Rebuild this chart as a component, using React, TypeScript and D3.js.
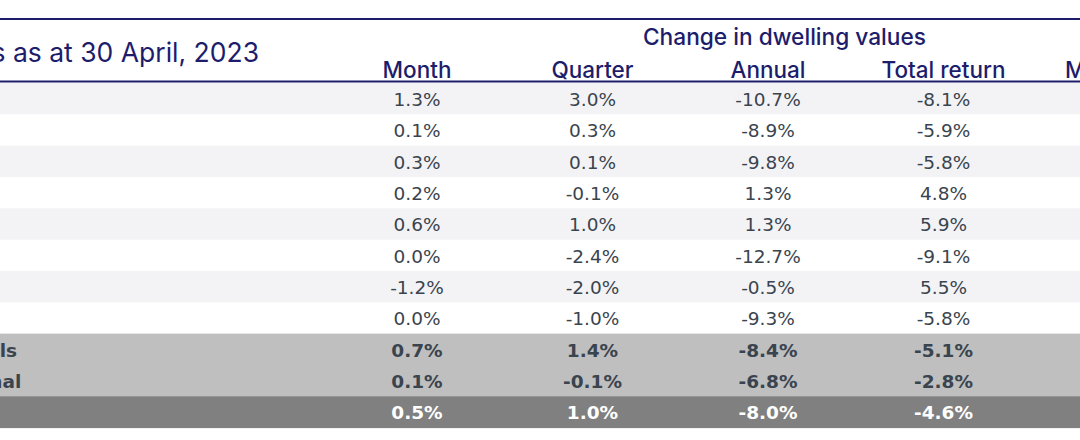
import React, { useEffect, useRef } from "react";
import * as d3 from "d3";

const title = "Index results as at 30 April, 2023";
const groupHeader = "Change in dwelling values";
const columns = ["Month", "Quarter", "Annual", "Total return", "Median value"];
const regions = [
  "Sydney", "Melbourne", "Brisbane", "Adelaide", "Perth", "Hobart", "Darwin", "Canberra",
  "Combined capitals", "Combined regional", "National",
];
const monthVals = [1.3, 0.1, 0.3, 0.2, 0.6, 0.0, -1.2, 0.0, 0.7, 0.1, 0.5];
const quarterVals = [3.0, 0.3, 0.1, -0.1, 1.0, -2.4, -2.0, -1.0, 1.4, -0.1, 1.0];
const annualVals = [-10.7, -8.9, -9.8, 1.3, 1.3, -12.7, -0.5, -9.3, -8.4, -6.8, -8.0];
const totalReturnVals = [-8.1, -5.9, -5.8, 4.8, 5.9, -9.1, 5.5, -5.8, -5.1, -2.8, -4.6];
const rowKinds = ["city", "city", "city", "city", "city", "city", "city", "city", "agg", "agg", "total"];

const W = 1080;
const H = 440;
const NAVY = "#1d1d6c";
const TEXT = "#3a444e";
const HEAD_FONT = "Inter, 'DejaVu Sans', sans-serif";
const NUM_FONT = "'DejaVu Sans', sans-serif";

export default function App() {
  const ref = useRef<SVGSVGElement | null>(null);

  useEffect(() => {
    const svg = d3.select(ref.current);
    svg.selectAll("*").remove();

    const y = d3.scaleBand<string>().domain(regions).range([83, 427.6]).padding(0);
    const x = d3.scalePoint<string>().domain(columns).range([417, 1119]);
    const series = [monthVals, quarterVals, annualVals, totalReturnVals];
    const fmt = (v: number) => (v === 0 ? "0.0" : d3.format(".1f")(v)).replace("−", "-") + "%";

    const bg = (i: number) => {
      const k = rowKinds[i];
      if (k === "agg") return "#bfbfbf";
      if (k === "total") return "#808080";
      return i % 2 === 0 ? "#f3f3f6" : "#ffffff";
    };
    svg.append("g").selectAll("rect").data(regions).join("rect")
      .attr("x", 0).attr("width", W)
      .attr("y", (d) => y(d)!)
      .attr("height", y.bandwidth() + 0.5)
      .attr("fill", (_, i) => bg(i));

    svg.append("line").attr("x1", 0).attr("x2", W).attr("y1", 19).attr("y2", 19)
      .attr("stroke", NAVY).attr("stroke-width", 2);
    svg.append("line").attr("x1", 0).attr("x2", W).attr("y1", 81.5).attr("y2", 81.5)
      .attr("stroke", NAVY).attr("stroke-width", 2);

    svg.append("text").text(title)
      .attr("x", 259).attr("y", 62).attr("text-anchor", "end")
      .attr("font-family", HEAD_FONT).attr("font-size", 26.5).attr("font-weight", 400)
      .attr("fill", NAVY);

    svg.append("text").text(groupHeader)
      .attr("x", 784.5).attr("y", 45).attr("text-anchor", "middle")
      .attr("font-family", HEAD_FONT).attr("font-size", 22.7).attr("font-weight", 500)
      .attr("fill", NAVY);

    const headers = svg.append("g").selectAll("text").data(columns).join("text")
      .text((d) => d)
      .attr("x", (d) => x(d)!).attr("y", 77.5).attr("text-anchor", "middle")
      .attr("font-family", HEAD_FONT).attr("font-size", 22.5).attr("font-weight", 500)
      .attr("fill", NAVY);
    // last (partly visible) header starts where the reference shows its first letter
    headers.filter((_, i) => i === columns.length - 1)
      .attr("text-anchor", "start").attr("x", 1065);

    const probe = svg.append("text").text("Combined capitals")
      .attr("font-family", NUM_FONT).attr("font-size", 18.5).attr("font-weight", 700);
    const lw = (probe.node() as SVGTextElement).getComputedTextLength();
    probe.remove();
    const labelX = 17 - lw;
    svg.append("g").selectAll("text").data(regions).join("text")
      .text((d) => d)
      .attr("x", labelX)
      .attr("y", (d) => y(d)! + y.bandwidth() / 2 + 7.5)
      .attr("font-family", NUM_FONT).attr("font-size", 18.5)
      .attr("font-weight", (_, i) => (rowKinds[i] === "city" ? 400 : 700))
      .attr("fill", (_, i) => (rowKinds[i] === "total" ? "#ffffff" : TEXT));

    series.forEach((vals, ci) => {
      svg.append("g").selectAll("text").data(vals).join("text")
        .text((v) => fmt(v))
        .attr("x", x(columns[ci])!)
        .attr("y", (_, i) => y(regions[i])! + y.bandwidth() / 2 + 7.5)
        .attr("text-anchor", "middle")
        .attr("font-family", NUM_FONT).attr("font-size", 18.5)
        .attr("font-weight", (_, i) => (rowKinds[i] === "city" ? 400 : 700))
        .attr("fill", (_, i) => (rowKinds[i] === "total" ? "#ffffff" : TEXT));
    });
  }, []);

  return (
    <svg
      ref={ref}
      width={W}
      height={H}
      style={{ position: "absolute", left: 0, top: 0, background: "#ffffff" }}
    />
  );
}
